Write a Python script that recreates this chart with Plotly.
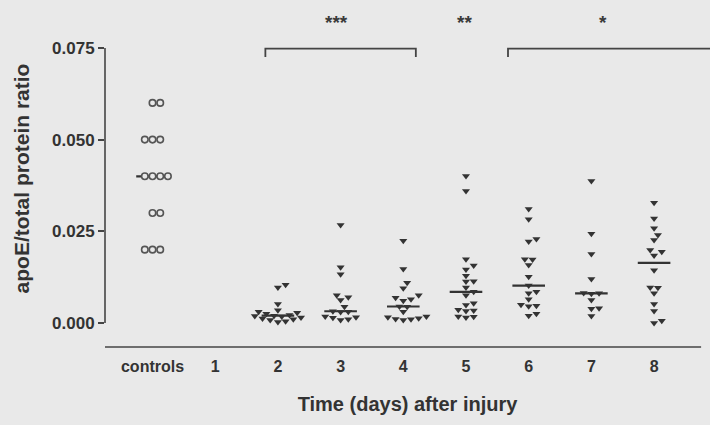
import numpy as np
import plotly.graph_objects as go

# ---- data -----------------------------------------------------------------
categories = ["controls", "1", "2", "3", "4", "5", "6", "7", "8"]

controls = [0.060, 0.060, 0.050, 0.050, 0.050, 0.040, 0.040, 0.040, 0.040,
            0.030, 0.030, 0.020, 0.020, 0.020]
day1 = []
day2 = [0.0104, 0.0097, 0.0052, 0.0035, 0.0031, 0.0028, 0.0025, 0.0022, 0.0020,
        0.0019, 0.0018, 0.0015, 0.0012, 0.0010, 0.0008, 0.0005, 0.0003]
day3 = [0.0267, 0.0152, 0.0133, 0.0076, 0.0070, 0.0063, 0.0044, 0.0032, 0.0031,
        0.0030, 0.0018, 0.0016, 0.0014, 0.0010, 0.0008]
day4 = [0.0224, 0.0147, 0.0110, 0.0095, 0.0076, 0.0069, 0.0065, 0.0061, 0.0045,
        0.0044, 0.0031, 0.0018, 0.0016, 0.0013, 0.0011, 0.0010, 0.0008]
day5 = [0.0401, 0.0360, 0.0174, 0.0157, 0.0146, 0.0129, 0.0114, 0.0113, 0.0097,
        0.0085, 0.0076, 0.0054, 0.0049, 0.0036, 0.0034, 0.0033, 0.0018, 0.0017,
        0.0015]
day6 = [0.0311, 0.0283, 0.0229, 0.0222, 0.0174, 0.0173, 0.0158, 0.0126, 0.0102,
        0.0085, 0.0081, 0.0065, 0.0050, 0.0047, 0.0046, 0.0025, 0.0020]
day7 = [0.0387, 0.0243, 0.0188, 0.0120, 0.0082, 0.0081, 0.0080, 0.0063, 0.0040,
        0.0039, 0.0019]
day8 = [0.0328, 0.0285, 0.0258, 0.0240, 0.0226, 0.0199, 0.0194, 0.0184, 0.0144,
        0.0097, 0.0096, 0.0081, 0.0052, 0.0033, 0.0006, 0.0000]

groups = [controls, day1, day2, day3, day4, day5, day6, day7, day8]

# significance brackets (group span) and their labels
bracket_spans = [(1.8, 4.2), (5.67, 9.2)]
star_labels = ["***", "**", "*"]
star_x = [2.93, 4.97, 7.18]

# ---- layout geometry --------------------------------------------------------
W, H = 710, 425
M_L, M_R, M_T, M_B = 105, 0, 10, 78
X_RANGE = [-0.758, 8.892]
Y_RANGE = [-0.00654, 0.08533]
px_per_x = (W - M_L - M_R) / (X_RANGE[1] - X_RANGE[0])
px_per_y = (H - M_T - M_B) / (Y_RANGE[1] - Y_RANGE[0])

INK = "#333333"
BG = "#e9e9e9"
FONT = "Liberation Sans"


def swarm_offsets(vals, step_px=7.7, min_dist_px=5.8):
    """Simple beeswarm: place points from low to high, nudging sideways."""
    placed = []
    offs = [0.0] * len(vals)
    cands = [0.0]
    for m in range(1, 40):
        cands += [m * step_px / 2, -m * step_px / 2]
    for i in sorted(range(len(vals)), key=lambda k: vals[k]):
        yp = vals[i] * px_per_y
        for c in cands:
            if all((c - a) ** 2 + (yp - b) ** 2 >= min_dist_px ** 2 for a, b in placed):
                break
        placed.append((c, yp))
        offs[i] = c / px_per_x
    return offs


fig = go.Figure()

# median lines
mx, my = [], []
for i, g in enumerate(groups):
    if g:
        m = float(np.median(g))
        mx += [i - 0.26, i + 0.26, None]
        my += [m, m, None]
fig.add_trace(go.Scatter(x=mx, y=my, mode="lines",
                         line=dict(color=INK, width=2.2),
                         hoverinfo="skip", showlegend=False))

# individual points
for i, g in enumerate(groups):
    if not g:
        continue
    offs = swarm_offsets(g, min_dist_px=7.0 if i == 0 else 5.8)
    xs = [i + o for o in offs]
    if i == 0:
        marker = dict(symbol="circle", size=6.5, color=BG,
                      line=dict(color="#555555", width=1.6))
    else:
        marker = dict(symbol="triangle-down", size=7, color=INK,
                      line=dict(width=0))
    fig.add_trace(go.Scatter(x=xs, y=g, mode="markers", marker=marker,
                             showlegend=False, name=categories[i]))

shapes = []
# y axis line (0 to 0.075 only)
shapes.append(dict(type="line", xref="paper", yref="y", x0=0, x1=0,
                   y0=0, y1=0.075, line=dict(color="#444444", width=1.6)))
# x axis line
shapes.append(dict(type="line", xref="x", yref="paper", x0=X_RANGE[0], x1=8.75,
                   y0=0, y1=0, line=dict(color="#444444", width=1.6)))
# brackets
for k, (a, b) in enumerate(bracket_spans):
    path = f"M {a},0.0725 L {a},0.0748 L {b},0.0748"
    if k == 0:
        path += f" L {b},0.0725"
    shapes.append(dict(type="path", xref="x", yref="y", path=path,
                       line=dict(color="#444444", width=1.8)))

annotations = []
for sx, lab in zip(star_x, star_labels):
    annotations.append(dict(x=sx, y=0.0818, xref="x", yref="y", text=lab,
                            showarrow=False, yanchor="middle",
                            font=dict(family=FONT, size=19, weight="bold",
                                      color="#3a3a3a")))

fig.update_layout(
    width=W, height=H,
    margin=dict(l=M_L, r=M_R, t=M_T, b=M_B),
    paper_bgcolor=BG, plot_bgcolor=BG,
    shapes=shapes, annotations=annotations,
    font=dict(family=FONT, color=INK),
    xaxis=dict(range=X_RANGE, tickmode="array",
               tickvals=list(range(len(categories))), ticktext=categories,
               showgrid=False, zeroline=False, showline=False, ticks="",
               ticklabelstandoff=8,
               tickfont=dict(family=FONT, size=16, weight="bold", color=INK),
               title=dict(text="Time (days) after injury", standoff=22,
                          font=dict(family=FONT, size=20, weight="bold", color=INK))),
    yaxis=dict(range=Y_RANGE, tickmode="array",
               tickvals=[0, 0.025, 0.05, 0.075], tickformat=".3f",
               showgrid=False, zeroline=False, showline=False,
               ticks="outside", ticklen=6, tickwidth=1.6, tickcolor="#444444",
               tickfont=dict(family=FONT, size=17, weight="bold", color=INK),
               title=dict(text="apoE/total protein ratio", standoff=16,
                          font=dict(family=FONT, size=21, weight="bold", color=INK))),
)

fig.write_html("out.html")
